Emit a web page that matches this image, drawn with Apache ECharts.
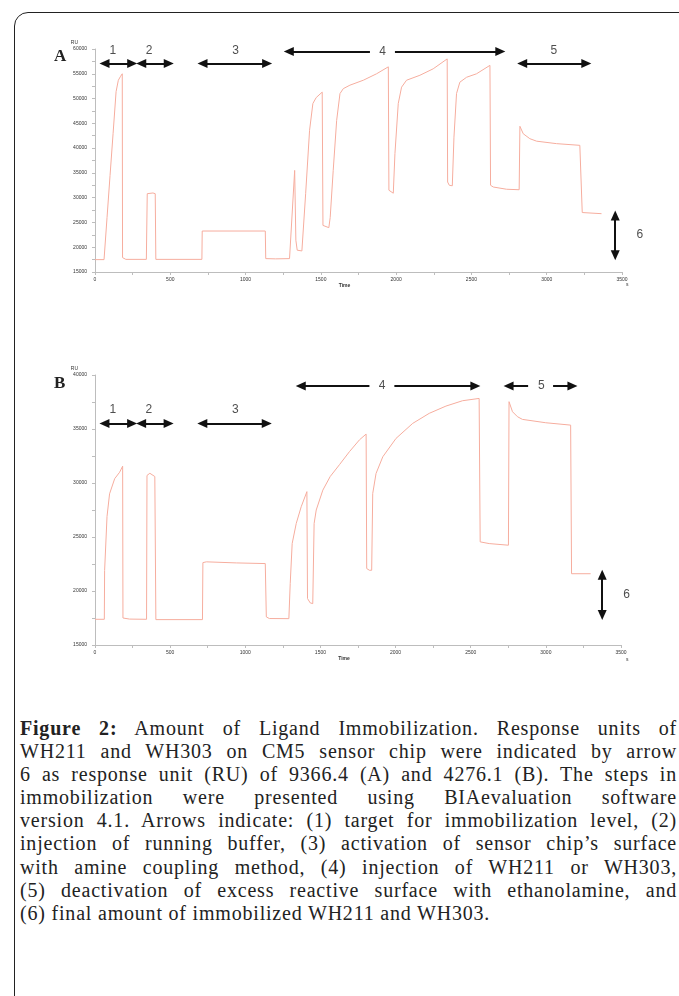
<!DOCTYPE html>
<html>
<head>
<meta charset="utf-8">
<script src="https://cdn.jsdelivr.net/npm/echarts@6.0.0/dist/echarts.min.js"></script>
<style>
  html, body { margin: 0; padding: 0; background: #fff; }
  #wrap { position: relative; width: 679px; height: 996px; overflow: hidden; }
  #frame {
    position: absolute; left: 14px; top: 12px; width: 700px; height: 1020px;
    border: 1.5px solid #222; border-radius: 14px;
  }
  #chart { position: absolute; left: 0; top: 0; width: 679px; height: 700px; }
  #caption {
    position: absolute; left: 20px; top: 717px; width: 657px;
    font-family: 'Liberation Serif', serif; font-size: 20px; line-height: 23.1px;
    letter-spacing: 0.8px; color: #222;
  }
  #caption div { text-align: justify; text-align-last: justify; white-space: nowrap; }
  #caption div.last { text-align-last: left; }
  #caption b { font-weight: bold; }
</style>
</head>
<body>
<div id="wrap">
  <div id="frame"></div>
  <div id="chart"></div>
  <div id="caption">
    <div><b>Figure 2:</b> Amount of Ligand Immobilization. Response units of</div>
    <div>WH211 and WH303 on CM5 sensor chip were indicated by arrow</div>
    <div>6 as response unit (RU) of 9366.4 (A) and 4276.1 (B). The steps in</div>
    <div>immobilization were presented using BIAevaluation software</div>
    <div>version 4.1. Arrows indicate: (1) target for immobilization level, (2)</div>
    <div>injection of running buffer, (3) activation of sensor chip’s surface</div>
    <div>with amine coupling method, (4) injection of WH211 or WH303,</div>
    <div>(5) deactivation of excess reactive surface with ethanolamine, and</div>
    <div class="last">(6) final amount of immobilized WH211 and WH303.</div>
  </div>
</div>
<script>
// ---- sensorgram A (WH211) ----
const timeA = [0, 60, 80, 100, 120, 140, 155, 170, 181, 183, 205, 341, 347, 385, 400, 404,
  710, 712, 1131, 1134, 1200, 1292, 1326, 1334, 1343, 1374, 1399, 1425, 1447, 1469, 1509,
  1514, 1525, 1553, 1562, 1582, 1605, 1627, 1649, 1693, 1782, 1870, 1948, 1952, 1963, 1981,
  1992, 2014, 2036, 2069, 2158, 2246, 2339, 2342, 2353, 2373, 2384, 2401, 2423, 2468, 2534,
  2623, 2627, 2645, 2733, 2817, 2822, 2844, 2888, 2933, 3065, 3220, 3231, 3236, 3364]
const ruA = [17500, 17500, 26000, 34500, 42900, 51400, 53700, 54500, 55000, 17900, 17550, 17550, 30800, 30950, 30800, 17550,
  17550, 23270, 23270, 17700, 17650, 17700, 35500, 21400, 19400, 19250, 30800, 43600, 49000, 50200, 51300,
  24400, 24080, 23950, 26000, 35500, 45600, 51000, 52000, 52700, 53700, 55000, 56400, 31500, 31200, 30900,
  38900, 49000, 52300, 53700, 54700, 56000, 58000, 33160, 32500, 32400, 42200, 51000, 53300, 54300, 55000,
  56700, 32500, 32150, 31700, 31600, 44400, 42900, 41900, 41400, 40900, 40560, 40400, 27000, 26770]

// ---- sensorgram B (WH303) ----
const timeB = [0, 62, 64, 80, 97, 131, 164, 184, 186, 230, 343, 346, 365, 398, 405,
  715, 718, 741, 940, 1133, 1140, 1160, 1290, 1299, 1312, 1339, 1372, 1410, 1414, 1432, 1449,
  1458, 1472, 1516, 1565, 1627, 1693, 1760, 1804, 1808, 1826, 1841, 1848, 1870, 1915, 2003,
  2114, 2224, 2335, 2446, 2556, 2563, 2623, 2751, 2755, 2778, 2811, 2844, 2999, 3165, 3171, 3298]
const ruB = [17380, 17380, 21900, 26900, 29000, 30400, 31000, 31560, 17500, 17400, 17380, 30700, 30900, 30600, 17350,
  17350, 22630, 22700, 22600, 22540, 17600, 17450, 17440, 20700, 24400, 26250, 27800, 29200, 19300, 18900, 18830,
  26250, 27500, 29340, 30600, 31700, 32900, 34000, 34530, 22080, 21920, 21920, 29030, 30880, 32430, 34130,
  35520, 36450, 37120, 37620, 37830, 24550, 24390, 24240, 37530, 36600, 36140, 35890, 35580, 35360, 21600, 21600]

// step arrows: [t1, ru1, t2, ru2, head at start, head at end]
const arrowsA = [
  [63, 57050, 247, 57050, true, true],
  [307, 57050, 490, 57050, true, true],
  [714, 57050, 1143, 57050, true, true],
  [1287, 59480, 1826, 59480, true, false],
  [1992, 59480, 2692, 59480, false, true],
  [2837, 57050, 3263, 57050, true, true],
  [3455, 26400, 3455, 18400, true, true]
]
const arrowsB = [
  [63, 35520, 247, 35520, true, true],
  [307, 35520, 490, 35520, true, true],
  [714, 35520, 1143, 35520, true, true],
  [1369, 38980, 1826, 38980, true, false],
  [1992, 38980, 2531, 38980, false, true],
  [2752, 38980, 2882, 38980, true, false],
  [3048, 38980, 3177, 38980, false, true],
  [3375, 21500, 3375, 17770, true, true]
]
// step numbers: [text, time, RU]
const stepLabelsA = [['1', 118, 59600], ['2', 359, 59600], ['3', 934, 59600], ['4', 1910, 59480], ['5', 3048, 59740], ['6', 3619, 22600]]
const stepLabelsB = [['1', 118, 36760], ['2', 359, 36760], ['3', 934, 36760], ['4', 1910, 38980], ['5', 2970, 38980], ['6', 3537, 19700]]

// axis ranges
const timeMax = 3500
const timeStep = 500
const ruRangeA = [15000, 60000]
const ruRangeB = [15000, 40000]
const ruStep = 5000

const lineColor = '#f6ad9e'
const axisColor = '#bdbdbd'
const tinyFont = { fontSize: 5, color: '#333', fontFamily: 'Liberation Sans' }

const makeX = (gridIndex) => ({
  type: 'value', gridIndex, min: 0, max: timeMax, interval: timeStep,
  name: 'Time', nameLocation: 'middle', nameGap: 11,
  nameTextStyle: { ...tinyFont, fontWeight: 'bold', padding: [0, 28, 0, 0] },
  axisLine: { lineStyle: { color: axisColor } },
  axisTick: { length: 3, lineStyle: { color: axisColor } },
  minorTick: { show: true, splitNumber: 2, length: 3, lineStyle: { color: axisColor } },
  axisLabel: { ...tinyFont, margin: 5, formatter: v => String(v) },
  splitLine: { show: false }
})

const makeY = (gridIndex, range) => ({
  type: 'value', gridIndex, min: range[0], max: range[1], interval: ruStep,
  name: 'RU', nameLocation: 'end', nameGap: 4,
  nameTextStyle: { ...tinyFont, align: 'right', padding: [0, 17, 0, 0] },
  axisLine: { show: true, lineStyle: { color: axisColor } },
  axisTick: { show: true, length: 3, lineStyle: { color: axisColor } },
  minorTick: { show: true, splitNumber: 2, length: 3, lineStyle: { color: axisColor } },
  axisLabel: { ...tinyFont, margin: 8, formatter: v => String(v) },
  splitLine: { show: false }
})

const toArrowLines = (arrows) => arrows.map(a => [
  { coord: [a[0], a[1]], symbol: a[4] ? 'triangle' : 'none' },
  { coord: [a[2], a[3]], symbol: a[5] ? 'triangle' : 'none' }
])

const makeCurve = (idx, times, values, arrows) => ({
  type: 'line', xAxisIndex: idx, yAxisIndex: idx,
  data: times.map((t, i) => [t, values[i]]),
  showSymbol: false, silent: true, clip: false,
  lineStyle: { color: lineColor, width: 1 },
  markLine: {
    silent: true, animation: false,
    symbolSize: [9, 10],
    label: { show: false },
    lineStyle: { color: '#111', width: 2, type: 'solid' },
    itemStyle: { color: '#111' },
    emphasis: { disabled: true },
    data: toArrowLines(arrows)
  }
})

const makeLabels = (idx, labels) => ({
  type: 'scatter', xAxisIndex: idx, yAxisIndex: idx,
  data: labels.map(l => [l[1], l[2], l[0]]),
  symbolSize: 2, itemStyle: { color: 'rgba(0,0,0,0)' }, silent: true, clip: false,
  label: {
    show: true, position: 'inside', formatter: p => p.data[2],
    fontSize: 12, color: '#222', fontFamily: 'Liberation Sans'
  }
})

const chart = echarts.init(document.getElementById('chart'))
const option = {
  animation: false,
  title: [
    { text: 'A', left: 49, top: 43, textStyle: { fontFamily: 'Liberation Serif', fontWeight: 'bold', fontSize: 17, color: '#222' } },
    { text: 'B', left: 49, top: 370, textStyle: { fontFamily: 'Liberation Serif', fontWeight: 'bold', fontSize: 17, color: '#222' } }
  ],
  grid: [
    { left: 95, top: 49, width: 527, height: 223 },
    { left: 95, top: 375, width: 526, height: 270 }
  ],
  xAxis: [makeX(0), makeX(1)],
  yAxis: [makeY(0, ruRangeA), makeY(1, ruRangeB)],
  graphic: [
    { type: 'text', left: 626, top: 282, style: { text: 's', fontSize: 5, fill: '#333', fontFamily: 'Liberation Sans' } },
    { type: 'text', left: 626, top: 657, style: { text: 's', fontSize: 5, fill: '#333', fontFamily: 'Liberation Sans' } }
  ],
  series: [
    makeCurve(0, timeA, ruA, arrowsA),
    makeCurve(1, timeB, ruB, arrowsB),
    makeLabels(0, stepLabelsA),
    makeLabels(1, stepLabelsB)
  ]
}
chart.setOption(option)
</script>
</body>
</html>
